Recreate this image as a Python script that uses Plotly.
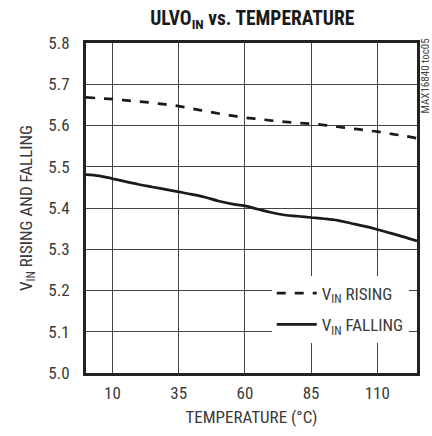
import plotly.graph_objects as go

temperature = [0, 5, 10, 15, 20, 25, 30, 35, 40, 45, 50, 55, 60, 65, 70, 75, 80, 85, 90, 95, 100, 105, 110, 115, 120, 125]
vin_rising = [5.668, 5.666, 5.664, 5.661, 5.658, 5.655, 5.651, 5.647, 5.641, 5.635, 5.629, 5.624, 5.619,
              5.616, 5.612, 5.609, 5.606, 5.604, 5.601, 5.597, 5.593, 5.589, 5.585, 5.580, 5.575, 5.569]
vin_falling = [5.481, 5.478, 5.471, 5.464, 5.457, 5.451, 5.445, 5.439, 5.433, 5.426, 5.417, 5.410, 5.405,
               5.397, 5.389, 5.383, 5.380, 5.377, 5.374, 5.370, 5.363, 5.356, 5.348, 5.339, 5.330, 5.320]
x_ticks = [10, 35, 60, 85, 110]
y_ticks = [5.0, 5.1, 5.2, 5.3, 5.4, 5.5, 5.6, 5.7, 5.8]

FONT = "Liberation Sans Narrow, Arial Narrow, Roboto Condensed, Liberation Sans, sans-serif"
TXT = "#3a3a3a"

fig = go.Figure()
fig.add_trace(go.Scatter(x=temperature, y=vin_rising, mode="lines", name="V<sub>IN</sub> RISING",
                         legendgroup="r",
                         line=dict(color="#1a1a1a", width=2.7, dash="dash", shape="spline")))
fig.add_trace(go.Scatter(x=temperature, y=vin_falling, mode="lines", name="V<sub>IN</sub> FALLING",
                         legendgroup="f",
                         line=dict(color="#1a1a1a", width=2.7, shape="spline")))

fig.update_layout(
    width=432, height=436,
    margin=dict(l=86, r=13, t=43, b=62),
    paper_bgcolor="white", plot_bgcolor="white",
    font=dict(family=FONT, size=17, color=TXT),
    title=dict(text="<b>ULVO<sub>IN</sub> vs. TEMPERATURE</b>", x=0.584, xanchor="center",
               y=0.958, yanchor="middle", font=dict(family=FONT, size=19.5, color="#1a1a1a")),
    showlegend=True,
    legend=dict(x=0.975, y=0.295, xanchor="right", yanchor="top", bgcolor="white",
                font=dict(family=FONT, size=17, color=TXT), tracegroupgap=6,
                itemwidth=40),
    xaxis=dict(range=[0, 125], tickvals=x_ticks, ticks="", showgrid=True, gridcolor="#444444",
               gridwidth=1.2, showline=True, linecolor="#222222", linewidth=3, mirror=True,
               zeroline=False, ticklabelstandoff=3,
               title=dict(text="TEMPERATURE (°C)", standoff=9, font=dict(size=17))),
    yaxis=dict(range=[5.0, 5.8], tickvals=y_ticks, tickformat=".1f", ticks="", showgrid=True,
               gridcolor="#444444", gridwidth=1.2, showline=True, linecolor="#222222", linewidth=3,
               mirror=True, zeroline=False, ticklabelstandoff=10,
               title=dict(text="V<sub>IN</sub> RISING AND FALLING", standoff=12, font=dict(size=17))),
    annotations=[dict(text="MAX16840 toc05", xref="paper", yref="paper", x=1.0, y=1.02,
                      xanchor="left", yanchor="top", textangle=-90, showarrow=False, xshift=0,
                      font=dict(family=FONT, size=11, color="#444444"))],
)

fig.write_html("out.html", config={"displayModeBar": False})
with open("out.html", encoding="utf-8") as fh:
    html = fh.read()
html = html.replace("<head>", "<head><style>html,body{margin:0;padding:0}</style>", 1)
with open("out.html", "w", encoding="utf-8") as fh:
    fh.write(html)
